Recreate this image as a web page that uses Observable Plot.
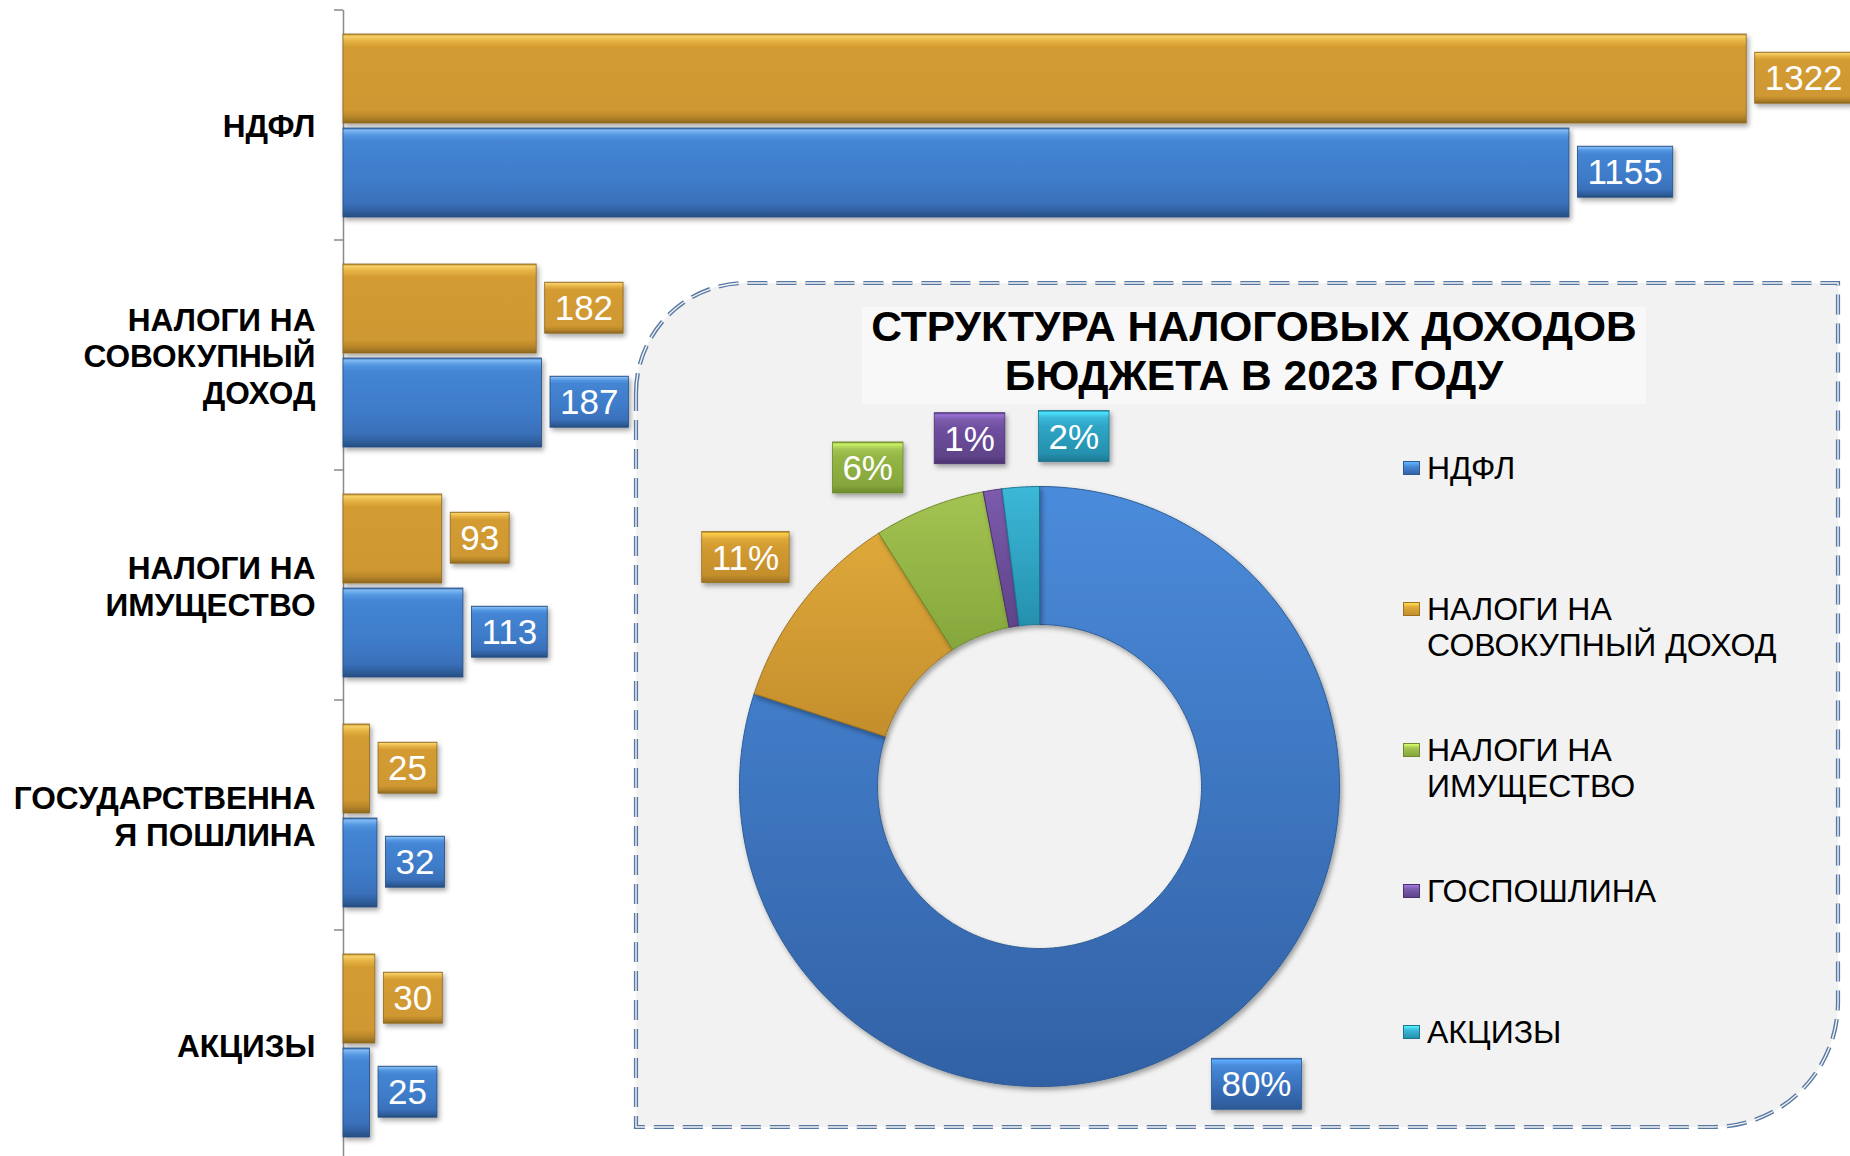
<!DOCTYPE html>
<html lang="ru">
<head>
<meta charset="utf-8">
<title>Налоговые доходы бюджета</title>
<script src="https://cdn.jsdelivr.net/npm/d3@7"></script>
<script src="https://cdn.jsdelivr.net/npm/@observablehq/plot@0.6"></script>
<style>
  html, body { margin:0; padding:0; background:#fff; overflow:hidden; }
  #wrap { position:relative; width:1850px; height:1156px; overflow:hidden; font-family:"Liberation Sans", Arial, sans-serif; }
  .layer { position:absolute; left:0; top:0; }
  #title { position:absolute; left:862px; top:307px; width:784px; height:97px; background:#f8f8f8; }
  #title div { position:relative; top:-5px; text-align:center; font-weight:bold; font-size:42.5px; line-height:49px; color:#000; white-space:pre; }
  #legend { position:absolute; left:1403px; top:450px; display:grid; grid-auto-rows:141px; }
  .li { display:flex; align-items:flex-start; }
  .sw { width:17px; height:14px; margin-top:11px; margin-right:7px; box-sizing:border-box; }
  .lt { font-size:32px; line-height:36px; color:#000; white-space:pre; }
</style>
</head>
<body>
<div id="wrap"></div>
<script>
// ---------------- DATA ----------------
const categories = ["НДФЛ", "НАЛОГИ НА СОВОКУПНЫЙ ДОХОД", "НАЛОГИ НА ИМУЩЕСТВО", "ГОСУДАРСТВЕННАЯ ПОШЛИНА", "АКЦИЗЫ"];
const categoryTickLabels = ["НДФЛ", "НАЛОГИ НА\nСОВОКУПНЫЙ\nДОХОД", "НАЛОГИ НА\nИМУЩЕСТВО", "ГОСУДАРСТВЕННА\nЯ ПОШЛИНА", "АКЦИЗЫ"];
const seriesKeys = ["Ряд 1", "Ряд 2"];
const valuesSeries1 = [1322, 182, 93, 25, 30];
const valuesSeries2 = [1155, 187, 113, 32, 25];

const pieCategories = ["НДФЛ", "НАЛОГИ НА СОВОКУПНЫЙ ДОХОД", "НАЛОГИ НА ИМУЩЕСТВО", "ГОСПОШЛИНА", "АКЦИЗЫ"];
const pieLegendLabels = ["НДФЛ", "НАЛОГИ НА\nСОВОКУПНЫЙ ДОХОД", "НАЛОГИ НА\nИМУЩЕСТВО", "ГОСПОШЛИНА", "АКЦИЗЫ"];
const pieShares = [80, 11, 6, 1, 2];
const titleLines = ["СТРУКТУРА НАЛОГОВЫХ ДОХОДОВ", "БЮДЖЕТА В 2023 ГОДУ"];

// ---------------- STYLES ----------------
const FONT = '"Liberation Sans", Arial, sans-serif';
const pieBase = ["#3f7fcd", "#d39b30", "#93b545", "#6f4f9f", "#2fa6c7"];
const pieTop  = ["#4a8bdb", "#dfa83a", "#a3c452", "#7c5bad", "#3cb8d8"];
const pieBot  = ["#3261a5", "#c48e2c", "#85a63b", "#5f4389", "#2590ae"];
const pieEdge = ["#2c5a94", "#9a7222", "#6c8a2c", "#4a3270", "#1d7690"];

const wrap = d3.select("#wrap");

// ---------------- DEFS (gradients, shadow) ----------------
const defsSvg = wrap.append("svg").attr("width", 0).attr("height", 0).style("position", "absolute");
const defs = defsSvg.append("defs");
function vgrad(id, stops) {
  const g = defs.append("linearGradient").attr("id", id).attr("x1", 0).attr("y1", 0).attr("x2", 0).attr("y2", 1);
  stops.forEach(([o, c]) => g.append("stop").attr("offset", o).attr("stop-color", c));
}
vgrad("gOrange", [[0, "#b8892a"], [0.025, "#f6d067"], [0.08, "#e6b243"], [0.15, "#d39b30"], [0.85, "#d09830"], [0.93, "#b8862a"], [1, "#8e6820"]]);
vgrad("gBlue", [[0, "#3a6eb0"], [0.025, "#80baf3"], [0.08, "#5396e1"], [0.15, "#4485d4"], [0.6, "#3e7bc8"], [0.85, "#3a70ba"], [0.93, "#30609f"], [1, "#264d82"]]);
pieBase.forEach((c, i) => {
  vgrad("pie" + i, [[0, pieTop[i]], [1, pieBot[i]]]);
  vgrad("box" + i, [[0, pieEdge[i]], [0.04, d3.color(pieTop[i]).brighter(0.6).formatHex()], [0.14, pieTop[i]], [0.3, pieBase[i]], [0.85, pieBot[i]], [1, pieEdge[i]]]);
});
const flt = defs.append("filter").attr("id", "shadow").attr("filterUnits", "userSpaceOnUse")
  .attr("x", -200).attr("y", -200).attr("width", 2400).attr("height", 1700);
flt.append("feDropShadow").attr("dx", 2).attr("dy", 3).attr("stdDeviation", 2.5)
  .attr("flood-color", "#000").attr("flood-opacity", 0.35);

// ---------------- BAR CHART ----------------
const rows1 = categories.map((c, i) => ({category: c, series: seriesKeys[0], value: valuesSeries1[i]}));
const rows2 = categories.map((c, i) => ({category: c, series: seriesKeys[1], value: valuesSeries2[i]}));

function boundaryTick(index, scales, values, dims) {
  const g = d3.create("svg:g");
  g.append("line")
    .attr("x1", dims.marginLeft - 9).attr("x2", dims.marginLeft)
    .attr("y1", dims.marginTop).attr("y2", dims.marginTop)
    .attr("stroke", "#8a8a8a").attr("stroke-width", 1.5);
  return g.node();
}

const barPlot = Plot.plot({
  width: 1850,
  height: 1160,
  marginLeft: 343,
  marginRight: 21,
  marginTop: 9,
  marginBottom: 0,
  style: {background: "transparent", fontFamily: FONT, overflow: "visible"},
  x: {domain: [0, 1400], axis: null},
  y: {domain: seriesKeys, axis: null, paddingInner: 0.055, paddingOuter: 0.24},
  fy: {domain: categories, axis: null, padding: 0},
  marks: [
    Plot.ruleX([0], {stroke: "#8a8a8a", strokeWidth: 1.5}),
    boundaryTick,
    Plot.barX(rows1, {fy: "category", y: "series", x: "value", fill: "url(#gOrange)", stroke: "#8e6820", strokeWidth: 0.8, className: "barsA"}),
    Plot.barX(rows2, {fy: "category", y: "series", x: "value", fill: "url(#gBlue)", stroke: "#264d82", strokeWidth: 0.8, className: "barsB"}),
    Plot.text(rows1, {fy: "category", y: "series", x: "value", text: d => String(d.value), dx: 18, textAnchor: "start", fill: "white", fontSize: 35, className: "labA"}),
    Plot.text(rows2, {fy: "category", y: "series", x: "value", text: d => String(d.value), dx: 18, textAnchor: "start", fill: "white", fontSize: 35, className: "labB"}),
    Plot.text(categories, {fy: d => d, frameAnchor: "left", text: (d, i) => categoryTickLabels[i], dx: -28, textAnchor: "end", fontSize: 31.6, fontWeight: "bold", lineHeight: 1.16, fill: "#000"})
  ]
});
d3.select(barPlot).attr("class", (barPlot.getAttribute("class") || "") + " layer");
wrap.node().appendChild(barPlot);

// ---------------- PANEL (decoration) ----------------
const P = {l: 636, t: 283, r: 1838, b: 1127, rTL: 110, rBR: 125};
const panelPath = `M${P.l},${P.t + P.rTL} A${P.rTL},${P.rTL} 0 0 1 ${P.l + P.rTL},${P.t} L${P.r},${P.t} L${P.r},${P.b - P.rBR} A${P.rBR},${P.rBR} 0 0 1 ${P.r - P.rBR},${P.b} L${P.l},${P.b} Z`;
const panel = wrap.append("svg").attr("class", "layer").attr("width", 1850).attr("height", 1156);
panel.append("path").attr("d", panelPath).attr("fill", "#f2f2f2");
panel.append("path").attr("d", panelPath).attr("fill", "none").attr("stroke", "#5878a4").attr("stroke-width", 4.2).attr("stroke-dasharray", "20 9");
panel.append("path").attr("d", panelPath).attr("fill", "none").attr("stroke", "#f4f4f4").attr("stroke-width", 1.4).attr("stroke-dasharray", "20 9");

// ---------------- DONUT ----------------
const R1 = 1, R0 = 0.54, RPX = 300;
const pieArcs = d3.pie().sort(null).value(d => d)(pieShares);
const slicePts = pieArcs.map(a => {
  const n = Math.max(4, Math.ceil((a.endAngle - a.startAngle) / (Math.PI / 360)));
  const pts = [];
  for (let k = 0; k <= n; k++) { const t = a.startAngle + (a.endAngle - a.startAngle) * k / n; pts.push({x: Math.sin(t) * R1, y: Math.cos(t) * R1}); }
  for (let k = n; k >= 0; k--) { const t = a.startAngle + (a.endAngle - a.startAngle) * k / n; pts.push({x: Math.sin(t) * R0, y: Math.cos(t) * R0}); }
  pts.push(pts[0]);
  return pts;
});

// label placement: mid angle, angular de-overlap, outside end
function dodge(angles, sep) {
  const order = d3.range(angles.length).sort((a, b) => angles[a] - angles[b]);
  let clusters = order.map(i => ({ids: [i], mean: angles[i]}));
  let merged = true;
  while (merged) {
    merged = false;
    for (let k = 0; k < clusters.length - 1; k++) {
      const A = clusters[k], B = clusters[k + 1];
      const aEnd = A.mean + (A.ids.length - 1) / 2 * sep;
      const bStart = B.mean - (B.ids.length - 1) / 2 * sep;
      if (bStart - aEnd < sep) {
        const ids = A.ids.concat(B.ids);
        const mean = (A.mean * A.ids.length + B.mean * B.ids.length) / ids.length;
        clusters.splice(k, 2, {ids, mean});
        merged = true;
        break;
      }
    }
  }
  const out = [];
  clusters.forEach(c => c.ids.forEach((id, j) => { out[id] = c.mean + (j - (c.ids.length - 1) / 2) * sep; }));
  return out;
}
const pctText = pieShares.map(v => v + "%");
const ctx = document.createElement("canvas").getContext("2d");
ctx.font = '35px "Liberation Sans"';
const midDeg = pieArcs.map(a => (a.startAngle + a.endAngle) / 2 * 180 / Math.PI);
const labDeg = dodge(midDeg, 17);
const labX = [], labY = [];
labDeg.forEach((deg, i) => {
  const t = deg * Math.PI / 180;
  const hx = (ctx.measureText(pctText[i]).width + 20) / 2, hy = 25.5;
  const d = (RPX + 22 + hx * Math.abs(Math.sin(t)) + hy * Math.abs(Math.cos(t))) / RPX;
  labX.push(Math.sin(t) * d);
  labY.push(Math.cos(t) * d);
});

const donutPlot = Plot.plot({
  width: 1850,
  height: 1156,
  marginLeft: 739,
  marginRight: 511,
  marginTop: 486,
  marginBottom: 70,
  style: {background: "transparent", fontFamily: FONT, overflow: "visible"},
  x: {domain: [-1, 1], axis: null},
  y: {domain: [-1, 1], axis: null},
  marks: [
    ...slicePts.map((pts, i) => Plot.line(pts, {x: "x", y: "y", fill: `url(#pie${i})`, stroke: pieEdge[i], strokeWidth: 1, strokeLinejoin: "round", className: "slice"})),
    Plot.text(pieShares, {x: labX, y: labY, text: pctText, fill: "white", fontSize: 35, className: "plab"})
  ]
});
d3.select(donutPlot).attr("class", (donutPlot.getAttribute("class") || "") + " layer");
wrap.node().appendChild(donutPlot);

// ---------------- LABEL BOXES ----------------
function addBoxes(root, selector, fillFn, strokeFn) {
  d3.select(root).selectAll(selector + " text").each(function (d, i) {
    const bb = this.getBBox();
    const cy = bb.y + bb.height / 2;
    const rect = document.createElementNS("http://www.w3.org/2000/svg", "rect");
    rect.setAttribute("x", bb.x - 10);
    rect.setAttribute("width", bb.width + 20);
    rect.setAttribute("y", cy - 25.5);
    rect.setAttribute("height", 51);
    rect.setAttribute("fill", fillFn(i));
    rect.setAttribute("stroke", strokeFn(i));
    rect.setAttribute("stroke-width", 0.8);
    rect.setAttribute("filter", "url(#shadow)");
    const tr = this.getAttribute("transform");
    if (tr) rect.setAttribute("transform", tr);
    this.parentNode.insertBefore(rect, this);
  });
}
addBoxes(barPlot, ".labA", () => "url(#gOrange)", () => "#8e6820");
addBoxes(barPlot, ".labB", () => "url(#gBlue)", () => "#264d82");
addBoxes(donutPlot, ".plab", i => `url(#box${i})`, i => pieEdge[i]);
d3.select(barPlot).selectAll(".barsA, .barsB").attr("filter", "url(#shadow)");
d3.select(donutPlot).selectAll(".slice").attr("filter", "url(#shadow)");

// ---------------- TITLE ----------------
const title = wrap.append("div").attr("id", "title");
title.append("div").text(titleLines.join("\n"));

// ---------------- LEGEND ----------------
const legend = wrap.append("div").attr("id", "legend");
pieLegendLabels.forEach((lab, i) => {
  const item = legend.append("div").attr("class", "li");
  item.append("div").attr("class", "sw")
    .style("background", `linear-gradient(to bottom, ${d3.color(pieTop[i]).brighter(0.8).formatHex()} 0%, ${pieTop[i]} 35%, ${pieBot[i]} 100%)`)
    .style("border", `1px solid ${pieEdge[i]}`);
  item.append("div").attr("class", "lt").text(lab);
});
</script>
</body>
</html>
